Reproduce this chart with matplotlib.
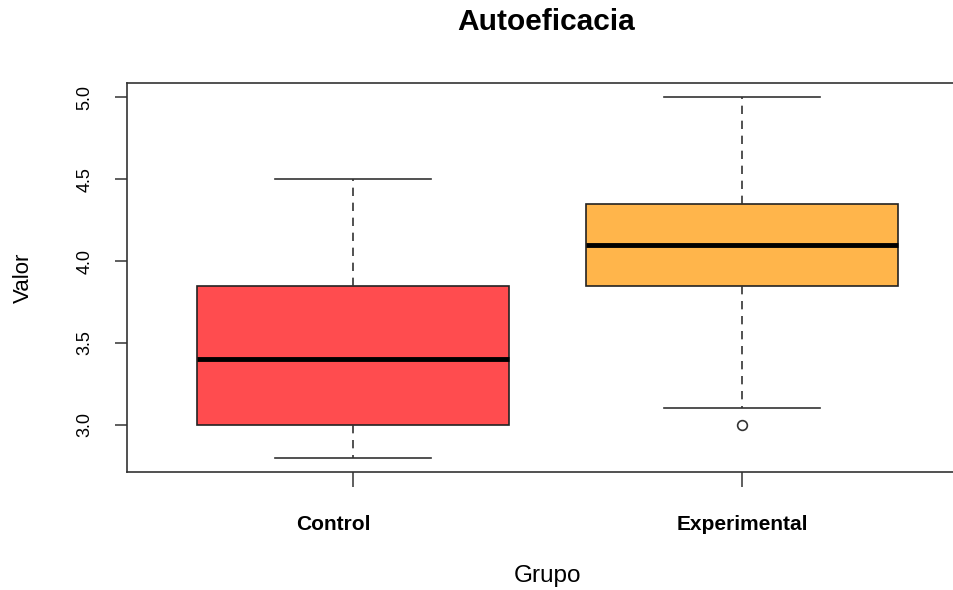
import numpy as np
import matplotlib
matplotlib.use("Agg")
import matplotlib.pyplot as plt
import matplotlib.transforms as mtransforms

plt.rcParams['font.family'] = ['Liberation Sans', 'DejaVu Sans']

# five-number summaries
groups = ["Control", "Experimental"]
whisker_low = [2.8, 3.1]
q1 = [3.0, 3.85]
median = [3.4, 4.1]
q3 = [3.85, 4.35]
whisker_high = [4.5, 5.0]
outliers = [[], [3.0]]
colors = ["#FF4C4F", "#FFB54B"]

stats = []
for i, g in enumerate(groups):
    stats.append({"label": g, "whislo": whisker_low[i], "q1": q1[i],
                  "med": median[i], "q3": q3[i], "whishi": whisker_high[i],
                  "fliers": outliers[i]})

fig = plt.figure(figsize=(9.54, 5.9), dpi=100)
ax = fig.add_axes([127 / 954, 118 / 590, (968 - 127) / 954, (472 - 83) / 590])

line_col = "#333333"
bp = ax.bxp(stats, positions=[1, 2], widths=0.8, patch_artist=True,
            boxprops=dict(edgecolor="#222222", linewidth=1.2),
            medianprops=dict(color="black", linewidth=3.5, solid_capstyle="butt"),
            whiskerprops=dict(color=line_col, linewidth=1.2, linestyle=(0, (5, 4))),
            capprops=dict(color=line_col, linewidth=1.2),
            capwidths=0.4,
            flierprops=dict(marker="o", markerfacecolor="none",
                            markeredgecolor=line_col, markersize=7,
                            markeredgewidth=1.2))
for patch, c in zip(bp["boxes"], colors):
    patch.set_facecolor(c)

ax.set_xlim(0.42, 2.58)
ax.set_ylim(2.712, 5.088)
ax.set_yticks([3.0, 3.5, 4.0, 4.5, 5.0])
ax.set_yticklabels(["3.0", "3.5", "4.0", "4.5", "5.0"], rotation=90,
                   va="center", fontsize=13)
ax.set_xticks([1, 2])
ax.set_xticklabels(groups, fontsize=15, fontweight="bold")
ax.tick_params(axis="y", length=9, width=1.1, color=line_col, pad=15)
ax.tick_params(axis="x", length=11, width=1.1, color=line_col, pad=20)

# the Control label sits a little left of its tick in the original
lbl = ax.get_xticklabels()[0]
lbl.set_transform(lbl.get_transform() +
                  mtransforms.ScaledTranslation(-0.19, 0, fig.dpi_scale_trans))

for side in ["left", "top", "bottom", "right"]:
    ax.spines[side].set_color(line_col)
    ax.spines[side].set_linewidth(1.2)

fig.text(546 / 954, 1 - 22 / 590, "Autoeficacia", fontsize=21.5,
         fontweight="bold", ha="center", va="center")
ax.set_xlabel("Grupo", fontsize=17.5, labelpad=22)
ax.set_ylabel("Valor", fontsize=16, labelpad=31)

fig.savefig("out.png", dpi=100)
